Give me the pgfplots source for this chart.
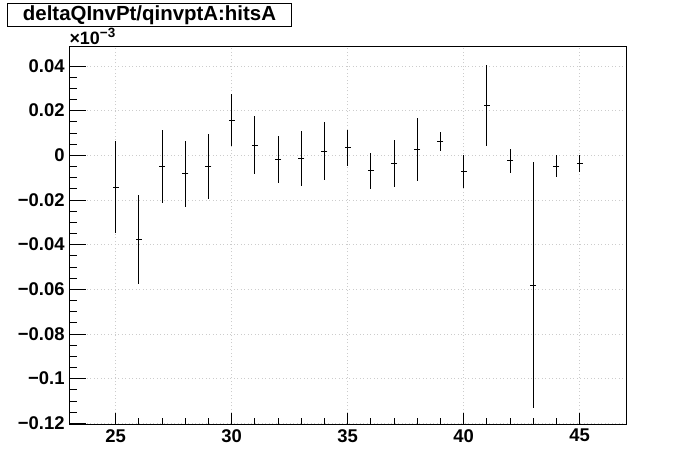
\documentclass[border=0pt]{standalone}
\usepackage{pgfplots}
\usepackage{pgfplotstable}
\pgfplotsset{compat=1.18}
\usepackage{fontspec}
\setmainfont{Liberation Sans}
\setsansfont{Liberation Sans}

\pgfplotstableread{
x y e
25 -0.0143 0.0205
26 -0.0376 0.0200
27 -0.0051 0.0162
28 -0.0083 0.0148
29 -0.0052 0.0146
30 0.0157 0.0116
31 0.0045 0.0130
32 -0.0021 0.0105
33 -0.0015 0.0124
34 0.0018 0.0130
35 0.0034 0.0080
36 -0.0070 0.0081
37 -0.0038 0.0105
38 0.0024 0.0141
39 0.0062 0.0044
40 -0.0072 0.0075
41 0.0223 0.0183
42 -0.0025 0.0055
43 -0.0581 0.0549
44 -0.0050 0.0049
45 -0.0035 0.0038
}\datatable

\begin{document}
\begin{tikzpicture}
\path[use as bounding box] (0,0) rectangle (696bp,472bp);
\begin{axis}[
  at={(69.3bp,48bp)}, anchor=south west,
  scale only axis, width=556.7bp, height=377.3bp,
  xmin=23, xmax=47, ymin=-0.1203, ymax=0.0486,
  axis line style={line width=1bp},
  grid=major,
  major grid style={gray!40, line width=0.8bp, dash pattern=on 1bp off 2.5bp},
  xtick={25,30,35,40,45}, minor x tick num=4,
  ytick={-0.12,-0.1,-0.08,-0.06,-0.04,-0.02,0,0.02,0.04},
  yticklabels={−0.12,−0.1,−0.08,−0.06,−0.04,−0.02,0,0.02,0.04},
  tick align=inside, xtick pos=bottom, ytick pos=left,
  ytick style={draw=none},
  tick style={black, line width=0.8bp},
  major tick length=11bp, minor tick length=5.5bp,
  /pgf/number format/assume math mode=true,
  ticklabel style={font=\fontsize{18.5}{19}\selectfont\bfseries},
  xticklabel style={inner sep=0pt, yshift=-5bp},
  yticklabel style={inner sep=0pt, xshift=-4.5bp},
  clip=false,
]
\addplot[black, mark=-, mark size=3bp, line width=1bp, only marks,
  error bars/.cd, y dir=both, y explicit, error mark=none,
  error bar style={line width=1bp, black}]
  table[x=x, y=y, y error=e] {\datatable};
\end{axis}
\begin{axis}[
  at={(69.3bp,48bp)}, anchor=south west,
  scale only axis, width=556.7bp, height=377.3bp,
  xmin=23, xmax=47, ymin=-0.1203, ymax=0.0486,
  axis line style={draw=none},
  xtick=\empty,
  ytick={-0.12,-0.1,-0.08,-0.06,-0.04,-0.02,0,0.02,0.04},
  yticklabels={}, minor y tick num=3,
  tick align=inside, ytick pos=left,
  tick style={black, line width=0.8bp},
  major tick length=17bp, minor tick length=8bp,
]
\addplot[draw=none] coordinates {(30,0)};
\end{axis}
\node[anchor=base west, inner sep=0pt, font=\fontsize{18}{18}\selectfont\bfseries] at (69.3bp,427bp) {×10\raisebox{0.42em}{\fontsize{13.5}{13.5}\selectfont −3}};
\draw[line width=1bp] (7.3bp,468.7bp) rectangle (291.7bp,445.3bp);
\node[inner sep=0pt, font=\fontsize{20.5}{21}\selectfont\bfseries] at (149.5bp,457bp) {deltaQInvPt/qinvptA:hitsA};
\end{tikzpicture}
\end{document}
